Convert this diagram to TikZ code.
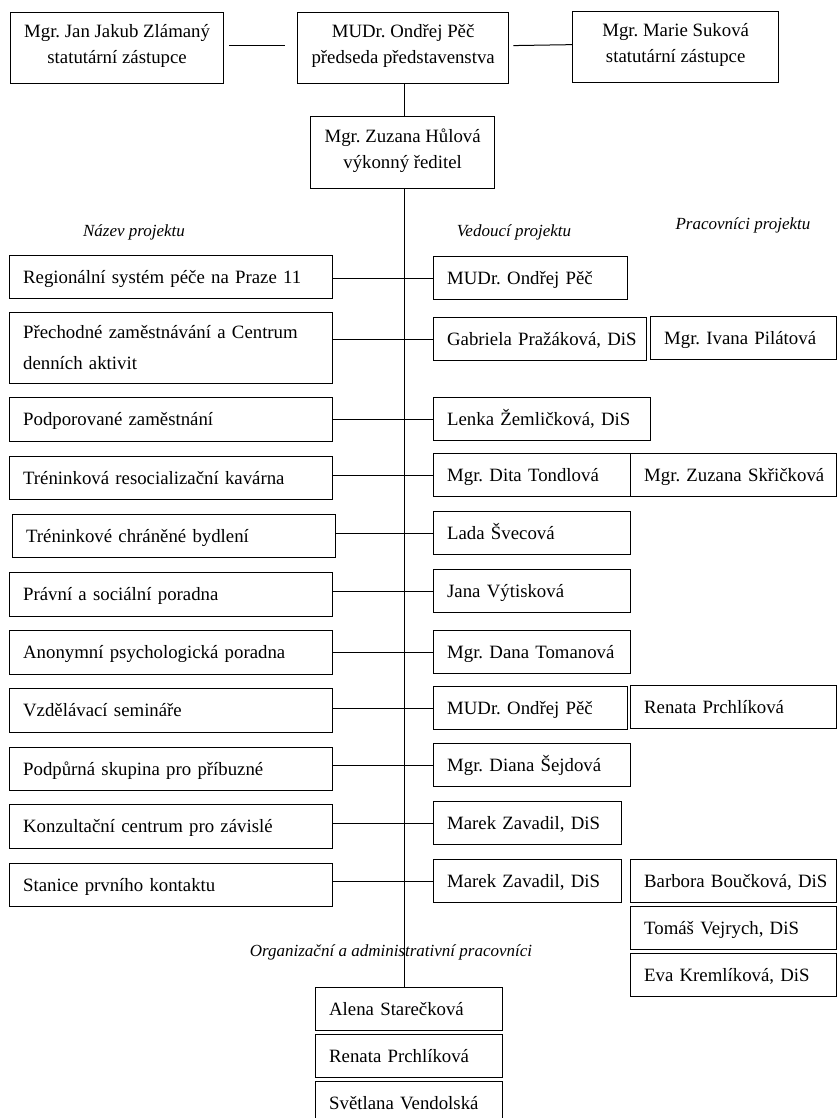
\documentclass[tikz,border=0pt]{standalone}
\usepackage{fontspec}
\setmainfont{Liberation Serif}
\begin{document}
\frenchspacing
\begin{tikzpicture}[x=1pt,y=-1pt,line width=1.3pt,
  box/.style={draw,anchor=north west,inner xsep=13.5pt,inner ysep=0pt,
    minimum height=43pt,font=\fontsize{18.8}{31}\selectfont,
    execute at begin node=\strut,execute at end node=\strut},
  topbox/.style={box,align=center,minimum width=#1pt,minimum height=71pt,
    font=\fontsize{18.8}{26}\selectfont},
  projbox/.style={box,text width=296pt,align=left},
  leadbox/.style={box,minimum width=#1pt,text width=#1pt-27pt,align=left},
  hdr/.style={inner sep=0pt,font=\fontsize{17}{20}\selectfont\itshape},
  link/.style={line width=1pt}]
\useasboundingbox (0,0) rectangle (837,1118);
\clip (0,0) rectangle (837,1118);
% 顶部：主席与两名法定代表
\node[topbox=212] (zlamany) at (10,12) {Mgr. Jan Jakub Zlámaný\\statutární zástupce};
\node[topbox=211] (pec) at (297,12) {MUDr. Ondřej Pěč\\předseda představenstva};
\node[topbox=206] (sukova) at (572,11) {Mgr. Marie Suková\\statutární zástupce};
\node[topbox=184,minimum height=72pt] (hulova) at (310,116) {Mgr. Zuzana Hůlová\\výkonný ředitel};
\draw[link,shorten <=5pt,shorten >=12pt] ([yshift=2.5pt]zlamany.east) -- ([yshift=2.5pt]pec.west);
\draw[link,shorten <=4pt] ([yshift=2.5pt]pec.east) -- ([yshift=2.5pt]sukova.west);
\draw[link] ([xshift=1.5pt]pec.south) -- ([xshift=1.5pt]pec.south |- hulova.north);
% 列标题
\node[hdr] (hproj) at (134,232) {Název projektu};
\node[hdr] (hlead) at (514,232) {Vedoucí projektu};
\node[hdr] (hwork) at (743,225) {Pracovníci projektu};
% 项目名称（左列）
\foreach \n/\xl/\yt/\h/\txt in {1/9/255/43/{Regionální systém péče na Praze 11},
  2/9/312/71/{Přechodné zaměstnávání a Centrum\\denních aktivit},
  3/9/397/44/{Podporované zaměstnání},4/9/456/43/{Tréninková resocializační kavárna},
  5/12/514/43/{Tréninkové chráněné bydlení},6/9/572/44/{Právní a sociální poradna},
  7/9/630/44/{Anonymní psychologická poradna},8/9/688/44/{Vzdělávací semináře},
  9/9/747/43/{Podpůrná skupina pro příbuzné},10/9/804/44/{Konzultační centrum pro závislé},
  11/9/863/43/{Stanice prvního kontaktu}}{
  \node[projbox,minimum height=\h pt] (proj\n) at (\xl,\yt) {\txt};
}
% 项目负责人（中列）
\foreach \n/\yt/\w/\txt in {1/256/194/{MUDr. Ondřej Pěč},2/317/213/{Gabriela Pražáková, DiS},
  3/397/217/{Lenka Žemličková, DiS},4/453/197/{Mgr. Dita Tondlová},
  5/511/197/{Lada Švecová},6/569/197/{Jana Výtisková},7/630/197/{Mgr. Dana Tomanová},
  8/686/194/{MUDr. Ondřej Pěč},9/743/197/{Mgr. Diana Šejdová},
  10/801/188/{Marek Zavadil, DiS},11/859/188/{Marek Zavadil, DiS}}{
  \node[leadbox=\w] (lead\n) at (433,\yt) {\mbox{\txt}};
}
% 项目 -- 负责人 连线
\foreach \n in {1,...,11}{
  \draw[link] (proj\n.east |- lead\n.west) -- (lead\n.west);
}
% 项目工作人员（右列）
\node[leadbox=186] (work2) at (650,316) {\mbox{Mgr. Ivana Pilátová}};
\node[leadbox=206] (work4) at (630,453) {\mbox{Mgr. Zuzana Skřičková}};
\node[leadbox=206] (work8) at (630,685) {\mbox{Renata Prchlíková}};
\foreach \k/\yt/\txt in {a/859/{Barbora Boučková, DiS},b/906/{Tomáš Vejrych, DiS},
  c/953/{Eva Kremlíková, DiS}}{
  \node[leadbox=206] (work11\k) at (630,\yt) {\mbox{\txt}};
}
% 行政人员
\node[hdr] (hadmin) at (391,952) {Organizační a administrativní pracovníci};
\foreach \n/\yt/\txt in {1/987/{Alena Starečková},2/1034/{Renata Prchlíková},
  3/1081/{Světlana Vendolská}}{
  \node[leadbox=187] (admin\n) at (315,\yt) {\mbox{\txt}};
}
% 主干竖线
\draw[link] ([xshift=2pt]hulova.south) -- ([xshift=2pt]hulova.south |- admin1.north);
\end{tikzpicture}
\end{document}
